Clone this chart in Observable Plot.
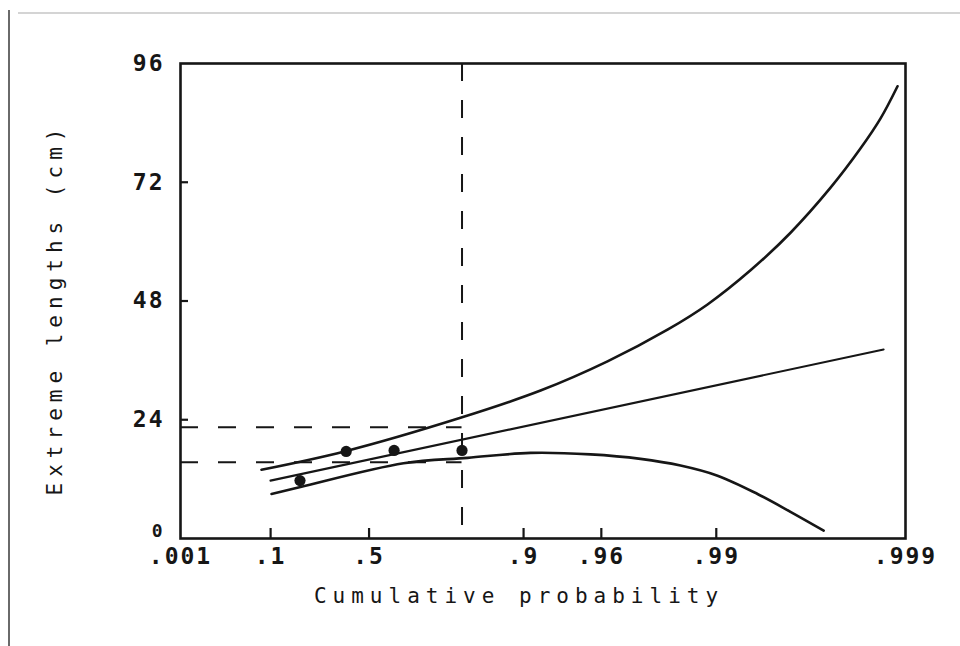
<!DOCTYPE html>
<html>
<head>
<meta charset="utf-8">
<script src="https://cdn.jsdelivr.net/npm/d3@7"></script>
<script src="https://cdn.jsdelivr.net/npm/@observablehq/plot@0.6"></script>
<style>
  html, body { margin: 0; padding: 0; background: #fff; }
  #wrap { position: relative; width: 960px; height: 646px; overflow: hidden; }
  .scanL { position: absolute; left: 8px; top: 10px; width: 2px; height: 636px; background: #6a6a6a; }
  .scanT { position: absolute; left: 18px; top: 12px; width: 942px; height: 2px; background: #d4d4d4; }
  #chart { position: absolute; left: 0; top: 0; }
</style>
</head>
<body>
<div id="wrap"><div class="scanL"></div><div class="scanT"></div><div id="chart"></div></div>
<script>
// Axis ticks (cumulative probability on Gumbel paper)
const tickProbs  = [0.001, 0.1, 0.5, 0.9, 0.96, 0.99, 0.999];
const tickLabels = [".001", ".1", ".5", ".9", ".96", ".99", ".999"];
const yTicks     = [0, 24, 48, 72, 96];

// Titles
const xTitle = "Cumulative probability";
const yTitle = "Extreme lengths (cm)";

// Upper confidence curve
const upperP = [0.0763, 0.3925, 0.7967, 0.9179, 0.96284, 0.98195, 0.98888, 0.99340, 0.995944, 0.997508, 0.998268, 0.998645, 0.998898];
const upperV = [13.9, 17.6, 24.4, 29.9, 35.8, 42.2, 47.3, 54.2, 61.8, 70.9, 78.8, 84.9, 91.4];

// Fitted (straight) line
const fitP = [0.0997, 0.998694];
const fitV = [11.7, 38.2];

// Lower confidence curve
const lowerP = [0.1026, 0.2020, 0.6342, 0.8116, 0.9078, 0.9545, 0.9750, 0.98457, 0.99015, 0.99394, 0.99594, 0.99729];
const lowerV = [9.0, 10.4, 15.2, 16.3, 17.3, 17.0, 16.1, 14.75, 12.7, 9.0, 5.4, 1.6];

// Observed points
const obsP = [0.2, 0.4, 0.6, 0.8];
const obsV = [11.7, 17.6, 17.8, 17.8];

// Reference (dashed) lines
const refP = 0.8;
const refLevels = [22.5, 15.4];

const g = p => -Math.log(-Math.log(p));
const series = (P, V) => P.map((p, i) => ({x: g(p), y: V[i]}));
const labelFor = v => {
  const i = tickProbs.findIndex(p => Math.abs(g(p) - v) < 1e-9);
  return i < 0 ? "" : tickLabels[i];
};
const ink = "#161616";
const xMin = g(tickProbs[0]);

const chart = Plot.plot({
  width: 960,
  height: 646,
  marginLeft: 180,
  marginRight: 55,
  marginTop: 63,
  marginBottom: 108,
  style: {fontFamily: "'DejaVu Sans Mono', monospace", color: ink, background: "transparent", overflow: "visible", letterSpacing: "2px"},
  x: {type: "linear", label: null, domain: [xMin, g(tickProbs[tickProbs.length - 1])]},
  y: {type: "linear", label: null, domain: [yTicks[0], yTicks[yTicks.length - 1]]},
  marks: [
    Plot.ruleX([g(refP)], {stroke: ink, strokeWidth: 2, strokeDasharray: "18,19"}),
    Plot.ruleY(refLevels, {x1: xMin, x2: g(refP), stroke: ink, strokeWidth: 2, strokeDasharray: "18,20"}),
    Plot.line(series(upperP, upperV), {x: "x", y: "y", curve: "catmull-rom", stroke: ink, strokeWidth: 2.6}),
    Plot.line(series(fitP, fitV), {x: "x", y: "y", stroke: ink, strokeWidth: 2.1}),
    Plot.line(series(lowerP, lowerV), {x: "x", y: "y", curve: "catmull-rom", stroke: ink, strokeWidth: 2.6}),
    Plot.dot(series(obsP, obsV), {x: "x", y: "y", r: 5.6, fill: ink, stroke: null}),
    Plot.frame({stroke: ink, strokeWidth: 2.6}),
    // inward tick marks: zero-length rules at the axis, extended inward by a negative inset
    Plot.ruleY(yTicks.slice(1, -1), {y: d => d, x1: xMin, x2: xMin, insetRight: -8, stroke: ink, strokeWidth: 2.2}),
    Plot.ruleX(tickProbs.slice(1, -1), {x: d => g(d), y1: yTicks[0], y2: yTicks[0], insetTop: -10, stroke: ink, strokeWidth: 2.2}),
    // tick labels
    Plot.axisY(yTicks.slice(1), {anchor: "left", tickSize: 0, tickPadding: 16, fontSize: 23, fontWeight: "bold", fill: ink, label: null}),
    Plot.axisY(yTicks.slice(0, 1), {anchor: "left", tickSize: 0, tickPadding: 16, dy: -7, fontSize: 18, fontWeight: "bold", fill: ink, label: null}),
    Plot.axisX(tickProbs.map(g), {anchor: "bottom", tickSize: 0, tickPadding: 9, tickFormat: labelFor, fontSize: 23, fontWeight: "bold", fill: ink, label: null}),
    // axis titles
    Plot.text([xTitle], {text: d => d, frameAnchor: "bottom", textAnchor: "middle", dx: -24, dy: 64, fontSize: 21, fill: ink}),
    Plot.text([yTitle], {text: d => d, frameAnchor: "left", textAnchor: "middle", rotate: -90, dx: -125, dy: 8, fontSize: 21, fill: ink})
  ]
});
d3.select(chart).selectAll("text").each(function () {
  const t = this.textContent;
  if (t === xTitle || t === yTitle) this.style.letterSpacing = "6px";
});
document.getElementById("chart").appendChild(chart);
</script>
</body>
</html>
